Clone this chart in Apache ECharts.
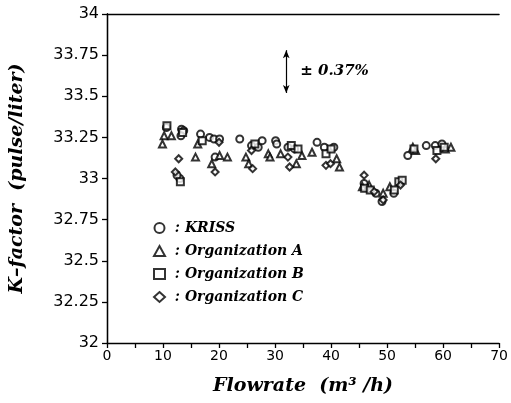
<!DOCTYPE html>
<html>
<head>
<meta charset="utf-8">
<script src="https://cdn.jsdelivr.net/npm/echarts@6/dist/echarts.min.js"></script>
<style>
html, body { margin: 0; padding: 0; background: #fff; }
#container { width: 511px; height: 403px; }
</style>
</head>
<body>
<div id="container"></div>
<script>
// 各机构的K系数测量值 [流量 m3/h, K-factor]
var kriss = [[10.6,33.31],[13.3,33.30],[13.7,33.29],[13.2,33.26],[16.7,33.27],[18.3,33.25],[19.1,33.24],[20.1,33.24],[23.7,33.24],[19.3,33.13],[25.8,33.20],[27.0,33.19],[27.7,33.23],[30.1,33.23],[30.3,33.21],[32.3,33.19],[33.5,33.18],[37.5,33.22],[38.8,33.19],[40.5,33.19],[13.0,33.00],[12.5,33.02],[48.0,32.91],[49.1,32.86],[51.2,32.91],[53.7,33.14],[57.0,33.20],[58.6,33.20],[59.8,33.21],[45.9,32.97]];
var orgA = [[10.2,33.26],[11.5,33.26],[9.9,33.21],[16.2,33.21],[15.8,33.13],[20.1,33.14],[21.5,33.13],[18.7,33.09],[24.8,33.13],[25.3,33.09],[28.8,33.15],[29.1,33.13],[31.0,33.15],[33.8,33.09],[34.8,33.14],[36.6,33.16],[41.0,33.12],[41.5,33.07],[45.6,32.95],[49.3,32.91],[50.5,32.95],[55.1,33.17],[54.6,33.19],[61.4,33.19],[60.4,33.18],[46.8,32.96]];
var orgB = [[10.7,33.32],[13.5,33.28],[17.0,33.23],[26.4,33.21],[32.9,33.20],[34.1,33.18],[39.1,33.15],[40.0,33.18],[13.1,32.98],[46.0,32.94],[47.0,32.93],[51.3,32.93],[52.1,32.98],[52.7,32.99],[54.8,33.18],[58.9,33.17],[60.2,33.19]];
var orgC = [[12.8,33.12],[12.2,33.04],[19.3,33.04],[26.0,33.06],[25.8,33.17],[32.3,33.13],[32.6,33.07],[39.1,33.08],[39.9,33.09],[45.9,33.02],[47.7,32.92],[49.3,32.87],[52.4,32.96],[58.7,33.12],[20.0,33.22]];
var seriesNames = ['KRISS', 'Organization A', 'Organization B', 'Organization C'];
var symbols = ['emptyCircle', 'emptyTriangle', 'emptyRect', 'emptyDiamond'];
var xTicks = [0, 70, 5];       // min, max, interval
var yTicks = [32, 34, 0.25];
// ±0.37% 误差箭头
var errArrow = [32, 33.52, 33.78];
var errLabel = '\u00B1 0.37%';

var myChart = echarts.init(document.getElementById('container'));

function makeSeries(name, data, symbol) {
	return {
		name : name,
		type : 'scatter',
		data : data,
		symbol : symbol,
		symbolSize : 7,
		itemStyle : { color : '#000', borderColor : '#000', borderWidth : 1.5 },
		animation : false
	};
}

var series = [
	makeSeries(seriesNames[0], kriss, symbols[0]),
	makeSeries(seriesNames[1], orgA, symbols[1]),
	makeSeries(seriesNames[2], orgB, symbols[2]),
	makeSeries(seriesNames[3], orgC, symbols[3])
];

series[0].markLine = {
	silent : true,
	symbol : ['arrow', 'arrow'],
	symbolSize : [5, 8],
	lineStyle : { color : '#000', type : 'solid', width : 1.2 },
	label : { show : false },
	data : [[{ coord : [errArrow[0], errArrow[1]] }, { coord : [errArrow[0], errArrow[2]] }]]
};
series[0].markPoint = {
	silent : true,
	symbol : 'circle',
	symbolSize : 0,
	label : {
		show : true,
		position : 'right',
		distance : 0,
		formatter : errLabel,
		fontFamily : 'DejaVu Serif', fontWeight : 'bold', fontStyle : 'italic',
		fontSize : 15, color : '#000'
	},
	data : [{ coord : [errArrow[0] + 2.5, (errArrow[1] + errArrow[2]) / 2] }]
};

myChart.setOption({
	animation : false,
	grid : { left : 106, right : 6, top : 14, bottom : 60 },
	legend : {
		orient : 'vertical',
		left : 148,
		top : 216,
		itemWidth : 11,
		itemHeight : 10,
		itemGap : 9,
		data : seriesNames,
		formatter : function(name) { return ' : ' + name; },
		textStyle : { fontFamily : 'DejaVu Serif', fontWeight : 'bold', fontStyle : 'italic', fontSize : 14, color : '#000' }
	},
	xAxis : [{
		type : 'value',
		min : xTicks[0], max : xTicks[1], interval : xTicks[2],
		name : 'Flowrate  (m\u00B3 /h)',
		nameLocation : 'middle',
		nameGap : 34,
		nameTextStyle : { fontFamily : 'DejaVu Serif', fontWeight : 'bold', fontStyle : 'italic', fontSize : 19, color : '#000' },
		axisLine : { lineStyle : { color : '#000', width : 1.3 } },
		axisTick : { length : 5, lineStyle : { color : '#000', width : 1.3 } },
		axisLabel : {
			margin : 6,
			fontFamily : 'DejaVu Sans', fontSize : 14, color : '#000',
			formatter : function(v) { return v % 10 === 0 ? String(v) : ''; }
		},
		splitLine : { show : false }
	}, {
		type : 'value', position : 'top',
		min : xTicks[0], max : xTicks[1], interval : xTicks[2],
		axisLine : { lineStyle : { color : '#000', width : 1.3 } },
		axisTick : { show : false },
		axisLabel : { show : false },
		splitLine : { show : false }
	}],
	yAxis : [{
		type : 'value',
		min : yTicks[0], max : yTicks[1], interval : yTicks[2],
		name : 'K\u2013factor  (pulse/liter)',
		nameLocation : 'middle',
		nameGap : 80,
		nameTextStyle : { fontFamily : 'DejaVu Serif', fontWeight : 'bold', fontStyle : 'italic', fontSize : 19, color : '#000' },
		axisLine : { show : true, lineStyle : { color : '#000', width : 1.3 } },
		axisTick : { show : true, length : 5, lineStyle : { color : '#000', width : 1.3 } },
		axisLabel : { margin : 8, fontFamily : 'DejaVu Sans', fontSize : 16, color : '#000' },
		splitLine : { show : false }
	}, {
		type : 'value', position : 'right',
		min : yTicks[0], max : yTicks[1], interval : yTicks[2],
		axisLine : { show : true, lineStyle : { color : '#000', width : 1.3 } },
		axisTick : { show : true, inside : true, length : 3, lineStyle : { color : '#000' } },
		axisLabel : { show : false },
		splitLine : { show : false }
	}],
	series : series
});
</script>
</body>
</html>
